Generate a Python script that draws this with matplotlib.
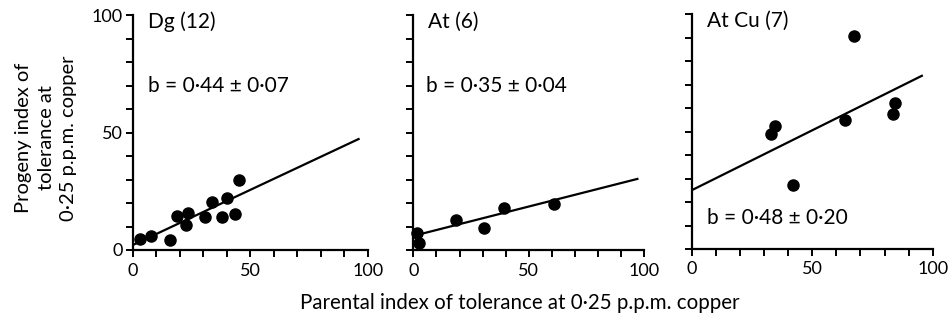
import numpy as np
import matplotlib.pyplot as plt

plt.rcParams['font.family'] = ['Lato', 'DejaVu Sans']

# parental vs progeny index of tolerance (0.25 p.p.m. copper)
dg_parent = [3.3, 7.6, 15.8, 18.8, 22.6, 23.4, 30.6, 33.6, 37.9, 40.0, 43.6, 45.3]
dg_progeny = [4.6, 6.1, 4.3, 14.6, 10.6, 15.7, 13.9, 20.6, 14.2, 22.2, 15.3, 30.0]
at_parent = [1.7, 2.3, 18.7, 30.5, 39.1, 61.0]
at_progeny = [7.4, 2.8, 12.8, 9.5, 17.7, 19.6]
atcu_parent = [32.7, 34.7, 42.0, 63.5, 67.4, 83.6, 84.4]
atcu_progeny = [48.9, 52.5, 27.4, 54.9, 90.5, 57.4, 62.0]

titles = ['Dg (12)', 'At (6)', 'At Cu (7)']
b_labels = ['b = 0·44 ± 0·07', 'b = 0·35 ± 0·04', 'b = 0·48 ± 0·20']

# regression lines as drawn
fit_intercepts = [2.1, 6.0, 25.0]
fit_slopes = [0.47, 0.25, 0.51]
fit_x_max = [96, 97, 95.5]

parents = [dg_parent, at_parent, atcu_parent]
progeny = [dg_progeny, at_progeny, atcu_progeny]

W, H = 949, 321
fig = plt.figure(figsize=(W / 100, H / 100), dpi=100)

# axes boxes in pixels: left, top, width, height
boxes = [(132.7, 15, 235.3, 235), (413.3, 15, 231, 235), (691.7, 14, 241, 235)]
b_pos = [(6.5, 70), (5.5, 70), (6.5, 13)]

for i, (l, t, w, h) in enumerate(boxes):
    ax = fig.add_axes([l / W, 1 - (t + h) / H, w / W, h / H])
    ax.set_xlim(0, 100)
    ax.set_ylim(0, 100)
    for s in ['top', 'right']:
        ax.spines[s].set_visible(False)
    for s in ['left', 'bottom']:
        ax.spines[s].set_linewidth(1.6)

    ax.set_xticks([0, 50, 100])
    ax.set_xticks(np.arange(0, 101, 10), minor=True)
    ax.set_yticks(np.arange(0, 101, 10), minor=True)
    if i == 0:
        ax.set_yticks([0, 50, 100])
    else:
        ax.set_yticks([0, 50, 100], labels=[])
    ax.tick_params(which='both', direction='out', length=5, width=1.4, labelsize=13, pad=2)
    ax.tick_params(axis='x', pad=4)

    ax.plot(parents[i], progeny[i], 'o', color='black', markersize=8, clip_on=False)
    xs = np.array([0, fit_x_max[i]])
    ax.plot(xs, fit_intercepts[i] + fit_slopes[i] * xs, color='black', lw=1.6)

    ax.text(6.5, 97, titles[i], fontsize=15, va='center', ha='left')
    ax.text(b_pos[i][0], b_pos[i][1], b_labels[i], fontsize=15, va='center', ha='left')

fig.text(0.0485, 0.57, 'Progeny index of\ntolerance at\n0·25 p.p.m. copper',
         rotation=90, ha='center', va='center', fontsize=14.5, linespacing=1.4)
fig.text(0.548, 0.056, 'Parental index of tolerance at 0·25 p.p.m. copper',
         ha='center', va='center', fontsize=14.8)

fig.savefig('out.png', dpi=100)
